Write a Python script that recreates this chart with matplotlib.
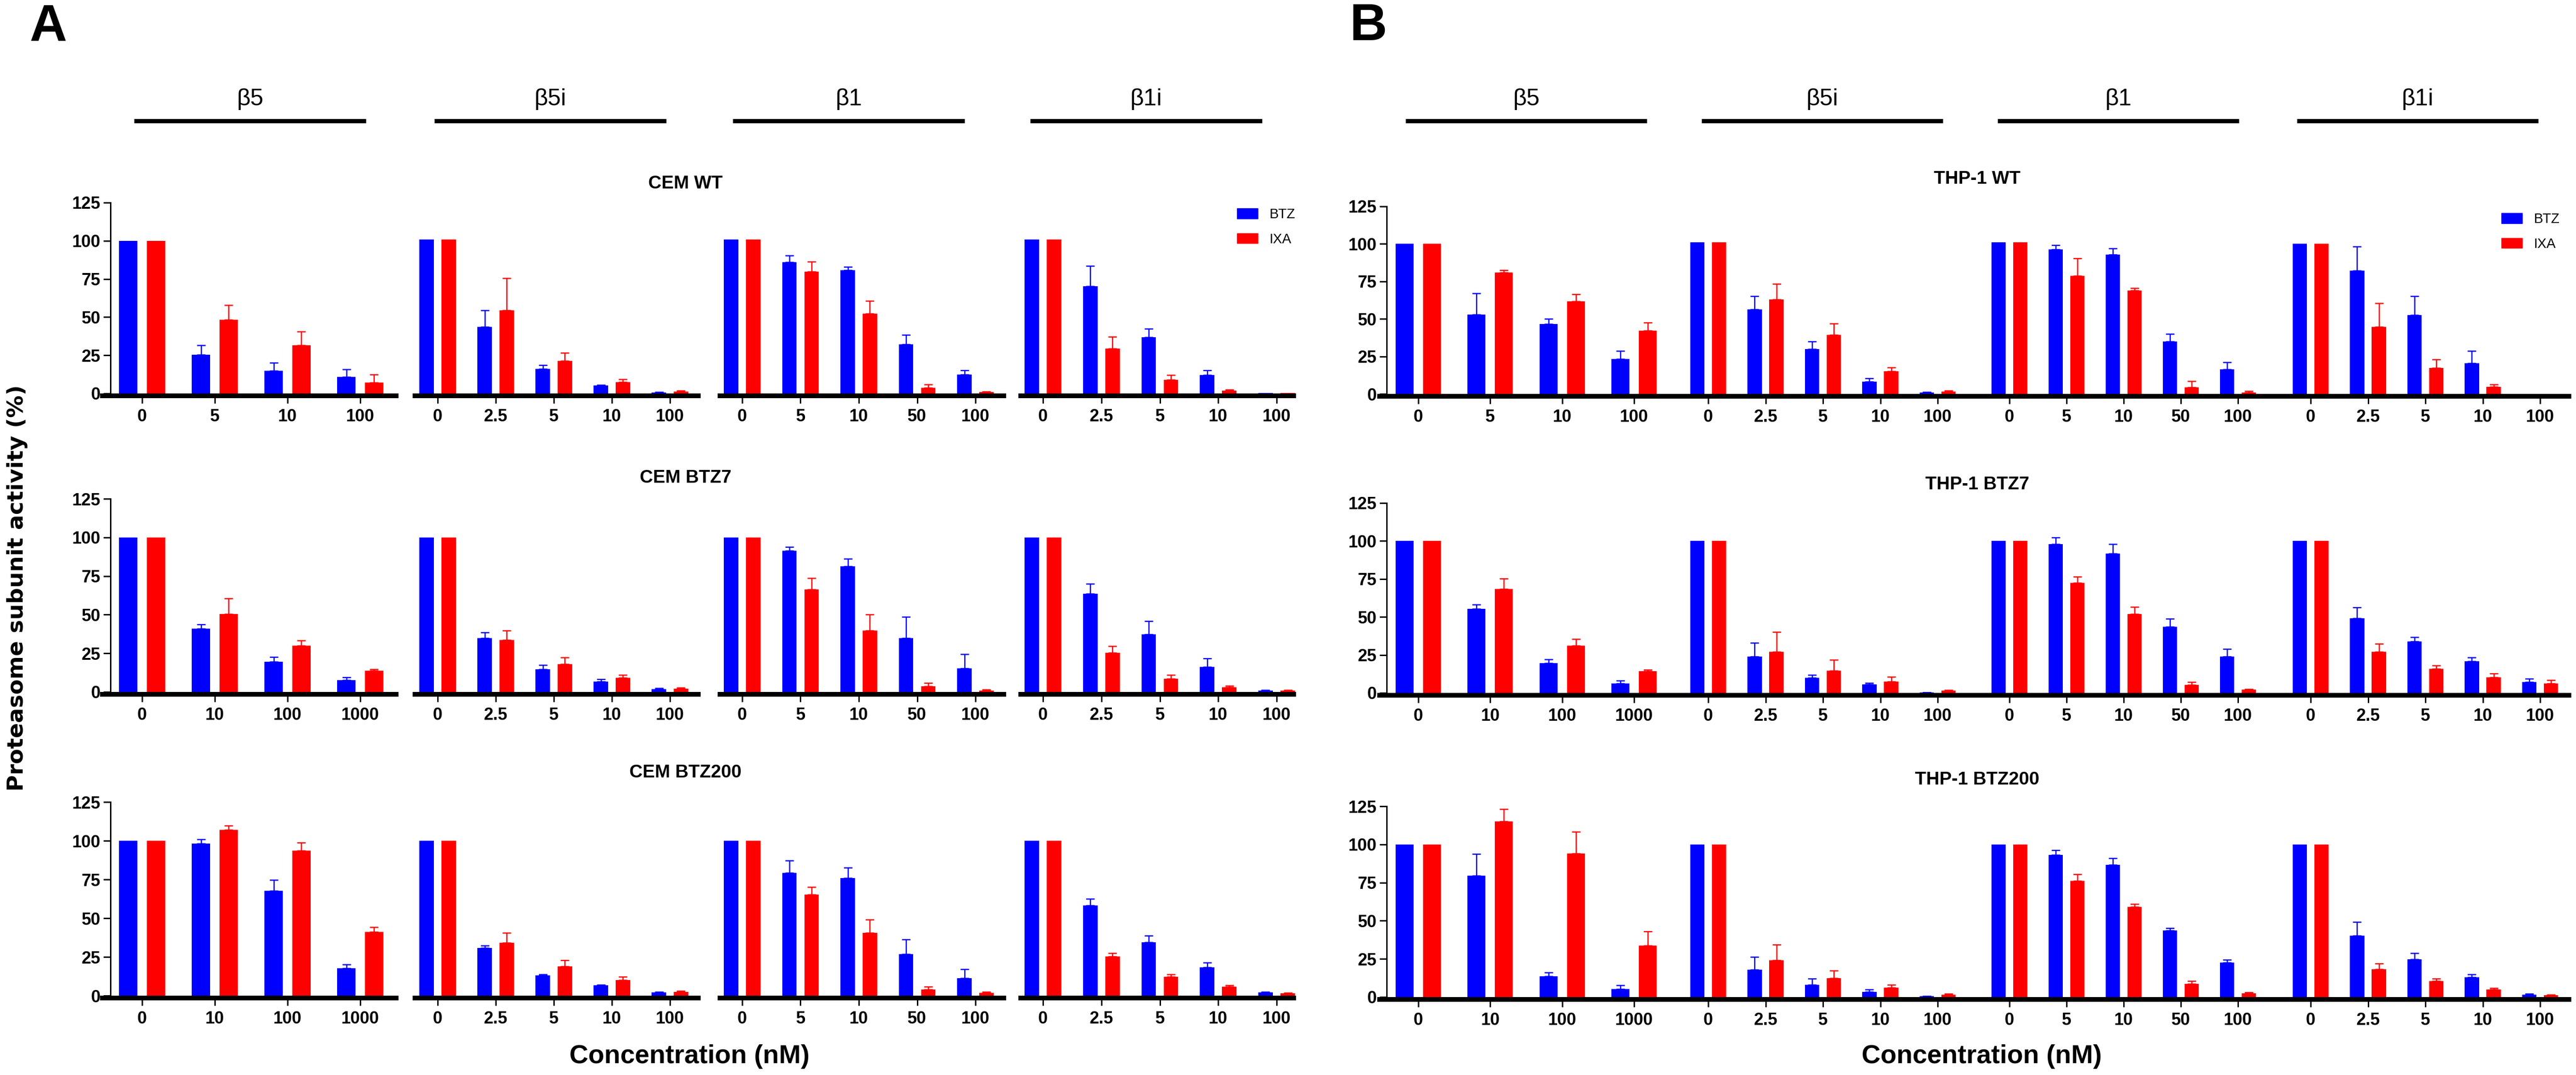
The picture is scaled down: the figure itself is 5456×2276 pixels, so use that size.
import matplotlib.pyplot as plt
from matplotlib.lines import Line2D
from matplotlib.patches import Patch
import numpy as np

W, H = 5456, 2276
plt.rcParams['font.family'] = ['Liberation Sans', 'DejaVu Sans']

BLUE = '#0000ff'
RED = '#ff0000'

# categories
subunits = ['β5', 'β5i', 'β1', 'β1i']
conc_b5_wt = ['0', '5', '10', '100']
conc_b5_res = ['0', '10', '100', '1000']
conc_b5i = ['0', '2.5', '5', '10', '100']
conc_b1 = ['0', '5', '10', '50', '100']
conc_b1i = ['0', '2.5', '5', '10', '100']

# values per row: b5 | b5i | b1 | b1i  (mean, upper SD)
cem_wt_btz = [100, 25.4, 14.8, 10.8, 100.8, 43.7, 16.2, 5.2, 0.6,
              100.8, 85.9, 80.9, 32.3, 12.4, 100.8, 70.3, 36.9, 12.0, 0.3]
cem_wt_btz_err = [0, 6.3, 5.3, 5.1, 0, 10.8, 2.4, 0.4, 0.2,
                  0, 4.5, 2.1, 6.1, 2.7, 0, 13.3, 5.5, 3.2, 0]
cem_wt_ixa = [100, 48.2, 31.7, 7.2, 100.8, 54.6, 21.3, 7.3, 1.3,
              100.8, 79.7, 52.3, 3.7, 0.8, 100.8, 29.5, 8.9, 1.8, 0.3]
cem_wt_ixa_err = [0, 9.8, 8.7, 5.3, 0, 21.0, 5.2, 2.0, 0.7,
                  0, 6.7, 8.3, 2.2, 0.3, 0, 7.5, 3.1, 0.8, 0]

cem_btz7_btz = [100, 41.1, 19.6, 7.7, 100, 34.7, 14.8, 6.7, 1.9,
                100, 91.5, 81.2, 34.7, 15.4, 100, 63.5, 37.4, 16.3, 1.0]
cem_btz7_btz_err = [0, 2.6, 3.1, 1.9, 0, 3.8, 2.7, 1.5, 0.4,
                    0, 2.2, 5.1, 13.8, 9.2, 0, 6.6, 8.3, 5.3, 0.3]
cem_btz7_ixa = [100, 50.4, 29.8, 13.9, 100, 33.6, 18.1, 9.1, 2.2,
                100, 66.4, 39.8, 3.7, 1.0, 100, 25.4, 8.7, 3.0, 0.8]
cem_btz7_ixa_err = [0, 10.1, 3.6, 0.9, 0, 6.0, 4.1, 2.0, 0.5,
                    0, 7.4, 10.2, 2.2, 0.5, 0, 4.3, 2.3, 1.0, 0.3]

cem_btz200_btz = [100, 98.3, 67.8, 17.6, 100, 30.7, 13.0, 6.6, 2.0,
                  100, 79.4, 76.0, 26.8, 11.3, 100, 58.3, 34.5, 18.2, 2.0]
cem_btz200_btz_err = [0, 2.6, 6.8, 2.6, 0, 1.5, 0.8, 0.4, 0.4,
                      0, 7.7, 6.5, 9.5, 5.8, 0, 4.1, 4.1, 3.0, 0.5]
cem_btz200_ixa = [100, 106.9, 93.6, 41.3, 100, 34.0, 18.8, 10.1, 2.5,
                  100, 65.3, 40.7, 4.0, 1.7, 100, 25.4, 12.3, 5.8, 1.5]
cem_btz200_ixa_err = [0, 3.0, 5.3, 3.0, 0, 6.5, 4.1, 2.1, 0.5,
                      0, 4.8, 8.3, 1.8, 0.6, 0, 2.0, 1.3, 0.8, 0.4]

thp_wt_btz = [100, 52.8, 46.5, 23.3, 101, 56.4, 29.9, 8.3, 0.9,
              101, 96.2, 92.9, 34.8, 16.4, 100, 82.1, 52.5, 20.6, 0]
thp_wt_btz_err = [0, 14.2, 3.6, 5.4, 0, 8.8, 5.2, 2.1, 0.3,
                  0, 3.0, 4.2, 5.3, 4.8, 0, 16.2, 12.7, 8.1, 0]
thp_wt_ixa = [100, 81.0, 61.6, 42.3, 101, 63.0, 39.3, 15.0, 1.7,
              101, 78.6, 69.0, 4.3, 0.9, 100, 44.7, 17.2, 4.7, 0]
thp_wt_ixa_err = [0, 1.4, 4.8, 5.1, 0, 10.3, 7.6, 2.6, 0.5,
                  0, 11.9, 1.6, 4.3, 1.0, 0, 15.7, 5.8, 1.7, 0]

thp_btz7_btz = [100, 55.3, 19.5, 6.2, 100, 24.0, 9.8, 5.5, 0.3,
                100, 97.9, 91.8, 43.6, 24.0, 100, 49.2, 33.8, 20.7, 7.0]
thp_btz7_btz_err = [0, 2.9, 2.5, 2.0, 0, 9.0, 2.1, 1.1, 0.1,
                    0, 4.5, 6.1, 5.3, 5.0, 0, 7.2, 3.0, 2.5, 2.4]
thp_btz7_ixa = [100, 68.5, 31.1, 14.3, 100, 27.0, 14.5, 7.4, 1.4,
                100, 72.5, 51.9, 5.4, 2.1, 100, 27.0, 16.0, 10.3, 6.2]
thp_btz7_ixa_err = [0, 6.7, 4.2, 0.9, 0, 13.1, 7.2, 3.3, 0.4,
                    0, 3.9, 4.8, 1.6, 0.5, 0, 5.3, 2.0, 2.4, 2.3]

thp_btz200_btz = [100, 79.5, 13.5, 5.3, 100, 17.9, 8.1, 3.5, 0.5,
                  100, 93.2, 86.5, 43.5, 22.7, 100, 40.2, 24.9, 13.0, 1.6]
thp_btz200_btz_err = [0, 14.2, 2.7, 2.5, 0, 8.4, 3.9, 1.3, 0.2,
                      0, 3.1, 4.4, 1.6, 1.7, 0, 9.0, 3.9, 1.8, 0.5]
thp_btz200_ixa = [100, 115.2, 94.2, 33.8, 100, 24.2, 12.5, 6.1, 1.7,
                  100, 76.1, 59.1, 8.7, 2.4, 100, 18.2, 10.5, 5.0, 1.2]
thp_btz200_ixa_err = [0, 7.8, 14.0, 9.3, 0, 10.0, 4.9, 2.0, 0.5,
                      0, 4.5, 2.0, 1.8, 0.8, 0, 3.7, 1.7, 1.0, 0.4]

# layout in pixels
A_ext = [(217, 839), (879, 1479), (1525, 2126), (2162, 2740)]
A_ticks = [(301, 763), (927, 1419), (1572, 2066), (2209, 2704)]
B_ext = [(2922, 3570), (3570, 4207), (4204, 4848), (4848, 5441)]
B_ticks = [(3004, 3461), (3618, 4104), (4256, 4740), (4894, 5380)]
A_rows = [(833, 429), (1465, 1056), (2108, 1698)]
B_rows = [(834, 437), (1467, 1065), (2111, 1707)]

fig = plt.figure(figsize=(W / 100, H / 100), dpi=100)


def fx(x):
    return x / W


def fy(y):
    return 1 - y / H


def draw_row(exts, ticks, yaxis_px, y0, y125, labels_list, btz, btz_err, ixa, ixa_err):
    ppu = (y0 - y125) / 125
    bottom_px = y0 + 1.5 * ppu
    start = 0
    for g, ((left, right), (t0, t1), labels) in enumerate(zip(exts, ticks, labels_list)):
        n = len(labels)
        step = (t1 - t0) / (n - 1)
        ax = fig.add_axes([fx(left), fy(bottom_px), (right - left) / W, (bottom_px - y125) / H])
        ax.patch.set_alpha(0)
        x = np.arange(n)
        sl = slice(start, start + n)
        start += n
        for off, m, e, c in ((-0.19, btz[sl], btz_err[sl], BLUE), (0.19, ixa[sl], ixa_err[sl], RED)):
            m = np.array(m, dtype=float)
            e = np.array(e, dtype=float)
            ax.bar(x + off, m, 0.25, color=c, linewidth=0, clip_on=False)
            k = e > 0
            ax.errorbar((x + off)[k], m[k], yerr=[np.zeros(k.sum()), e[k]], fmt='none',
                        ecolor=c, elinewidth=1.8, capsize=6.5, capthick=1.8, clip_on=False)
        ax.set_xlim(-(t0 - left) / step, n - 1 + (right - t1) / step)
        ax.set_ylim(-1.5, 125)
        ax.spines['top'].set_visible(False)
        ax.spines['right'].set_visible(False)
        ax.spines['bottom'].set_linewidth(7.2)
        ax.set_xticks(x)
        ax.set_xticklabels(labels, fontweight='bold')
        ax.tick_params(axis='x', length=11.5, width=2.2, pad=8, labelsize=26)
        if g == 0:
            ax.spines['left'].set_bounds(0, 125)
            ax.spines['left'].set_position(('data', -(t0 - yaxis_px) / step))
            ax.spines['left'].set_linewidth(2.2)
            ax.set_yticks([0, 25, 50, 75, 100, 125])
            ax.set_yticklabels(['0', '25', '50', '75', '100', '125'], fontweight='bold')
            ax.tick_params(axis='y', length=11, width=2.2, pad=4, labelsize=26)
        else:
            ax.spines['left'].set_visible(False)
            ax.set_yticks([])


A_labels = [[conc_b5_wt, conc_b5i, conc_b1, conc_b1i],
            [conc_b5_res, conc_b5i, conc_b1, conc_b1i],
            [conc_b5_res, conc_b5i, conc_b1, conc_b1i]]
A_data = [(cem_wt_btz, cem_wt_btz_err, cem_wt_ixa, cem_wt_ixa_err),
          (cem_btz7_btz, cem_btz7_btz_err, cem_btz7_ixa, cem_btz7_ixa_err),
          (cem_btz200_btz, cem_btz200_btz_err, cem_btz200_ixa, cem_btz200_ixa_err)]
B_data = [(thp_wt_btz, thp_wt_btz_err, thp_wt_ixa, thp_wt_ixa_err),
          (thp_btz7_btz, thp_btz7_btz_err, thp_btz7_ixa, thp_btz7_ixa_err),
          (thp_btz200_btz, thp_btz200_btz_err, thp_btz200_ixa, thp_btz200_ixa_err)]

for (y0, y125), labels, data in zip(A_rows, A_labels, A_data):
    draw_row(A_ext, A_ticks, 234, y0, y125, labels, *data)
for (y0, y125), labels, data in zip(B_rows, A_labels, B_data):
    draw_row(B_ext, B_ticks, 2937, y0, y125, labels, *data)

# row titles
for t, y in zip(['CEM WT', 'CEM BTZ7', 'CEM BTZ200'], [389, 1012, 1636]):
    fig.text(fx(1452), fy(y), t, ha='center', va='center', fontsize=28, fontweight='bold')
for t, y in zip(['THP-1 WT', 'THP-1 BTZ7', 'THP-1 BTZ200'], [379, 1026, 1651]):
    fig.text(fx(4188), fy(y), t, ha='center', va='center', fontsize=28, fontweight='bold')

# subunit headers
for starts, length in (([284, 920, 1552, 2182], 491), ([2977, 3604, 4231, 4865], 511)):
    for s, name in zip(starts, subunits):
        fig.add_artist(Line2D([fx(s), fx(s + length)], [fy(256), fy(256)], lw=6.5,
                              color='black', solid_capstyle='butt'))
        fig.text(fx(s + length / 2), fy(210), name, ha='center', va='center', fontsize=36)

# legends
handles = [Patch(color=BLUE, label='BTZ'), Patch(color=RED, label='IXA')]
for lx, ly in ((2620, 440), (5298, 450)):
    fig.legend(handles=handles, loc='upper left', bbox_to_anchor=(fx(lx), fy(ly)),
               frameon=False, fontsize=21, handlelength=1.5, handleheight=0.75,
               handletextpad=0.85, labelspacing=0.85, borderpad=0, borderaxespad=0)

# axis labels and panel letters
fig.text(fx(37), fy(1245), 'Proteasome subunit activity (%)', rotation=90, ha='center',
         va='center', fontsize=34, fontweight='bold', family='DejaVu Sans')
fig.text(fx(1460), fy(2237), 'Concentration (nM)', ha='center', va='center',
         fontsize=40, fontweight='bold')
fig.text(fx(4197), fy(2237), 'Concentration (nM)', ha='center', va='center',
         fontsize=40, fontweight='bold')
fig.text(fx(102), fy(57), 'A', ha='center', va='center', fontsize=79, fontweight='bold')
fig.text(fx(2898), fy(57), 'B', ha='center', va='center', fontsize=79, fontweight='bold')

fig.savefig('out.png', dpi=100)
